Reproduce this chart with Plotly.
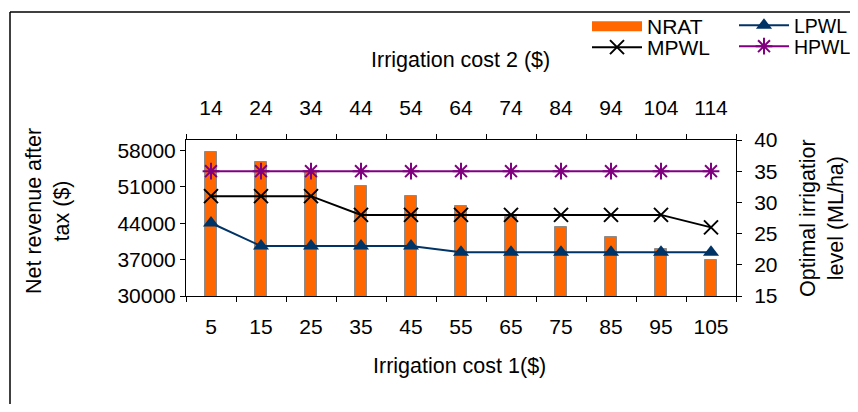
import plotly.graph_objects as go

cost1 = ["5", "15", "25", "35", "45", "55", "65", "75", "85", "95", "105"]
cost2 = ["14", "24", "34", "44", "54", "64", "74", "84", "94", "104", "114"]
nrat = [57700, 55800, 53900, 51200, 49200, 47300, 45200, 43200, 41300, 39000, 37000]
lpwl = [26.7, 23, 23, 23, 23, 22, 22, 22, 22, 22, 22]
mpwl = [31, 31, 31, 28, 28, 28, 28, 28, 28, 28, 26]
hpwl = [35, 35, 35, 35, 35, 35, 35, 35, 35, 35, 35]

FONT = "Liberation Sans, Arial, sans-serif"
FS = 21
FT = 21.5
OFF = 8  # page offset of the figure inside the browser window (body margin)
W, H = 858 - 2 * OFF, 412 - 2 * OFF
# plot area in screen (reference) pixels: x 186..736, y 140..296
PW, PH = 550, 156
L = 186 - OFF
T = 140 - OFF
R = W - L - PW
B = H - T - PH

def px(x):
    return (x - OFF - L) / PW

def py(y):
    return (H - B - (y - OFF)) / PH

fig = go.Figure()
fig.add_trace(go.Bar(x=cost1, y=nrat, name="NRAT", width=0.23,
                     marker=dict(color="#FF6600", line=dict(color="#8C8C8C", width=1)),
                     showlegend=False))
# legend proxy giving NRAT a wide rectangular swatch like the original
fig.add_trace(go.Scatter(x=[None], y=[None], name="NRAT", mode="lines",
                         line=dict(color="#FF6600", width=16), legend="legend",
                         hoverinfo="skip"))
fig.add_trace(go.Scatter(x=cost1, y=lpwl, name="LPWL", yaxis="y2", mode="lines+markers",
                         line=dict(color="#003366", width=2),
                         marker=dict(symbol="triangle-up", size=14, color="#003366"),
                         legend="legend2"))
fig.add_trace(go.Scatter(x=cost1, y=mpwl, name="MPWL", yaxis="y2", mode="lines+markers",
                         line=dict(color="#000000", width=2),
                         marker=dict(symbol="x-thin-open", size=14, color="#000000",
                                     line=dict(width=2, color="#000000")),
                         legend="legend3"))
fig.add_trace(go.Scatter(x=cost1, y=hpwl, name="HPWL", yaxis="y2", mode="lines+markers",
                         line=dict(color="#800080", width=2),
                         marker=dict(symbol="asterisk-open", size=14, color="#800080",
                                     line=dict(width=2, color="#800080")),
                         legend="legend4"))
# invisible trace to carry the top axis categories
fig.add_trace(go.Scatter(x=cost2, y=[None] * len(cost2), xaxis="x2", yaxis="y",
                         showlegend=False, hoverinfo="skip", mode="markers"))

axis_common = dict(showline=True, linecolor="black", linewidth=1, ticks="outside",
                   tickcolor="black", ticklen=5, showgrid=False, zeroline=False,
                   automargin=False,
                   tickfont=dict(family=FONT, size=FS, color="black"))

def leg(x, y, size=FS):
    return dict(x=px(x), y=py(y), xanchor="left", yanchor="top",
                font=dict(family=FONT, size=size), bgcolor="rgba(0,0,0,0)",
                itemwidth=50)

def ann(text, x, y, angle=0):
    return dict(text=text, x=px(x), y=py(y), xref="paper", yref="paper",
                xanchor="center", yanchor="middle", showarrow=False,
                textangle=angle, font=dict(family=FONT, size=FT))

fig.update_layout(
    width=W, height=H,
    margin=dict(l=L, r=R, t=T, b=B, autoexpand=False),
    paper_bgcolor="white", plot_bgcolor="white",
    font=dict(family=FONT, size=FS, color="black"),
    xaxis=dict(type="category", tickson="boundaries", ticklabelstandoff=12,
               range=[-0.5, 10.5], autorange=False, **axis_common),
    xaxis2=dict(type="category", overlaying="x", side="top", tickson="boundaries",
                ticklabelstandoff=16, range=[-0.5, 10.5], autorange=False, **axis_common),
    yaxis=dict(range=[30000, 60000], tickvals=[30000, 37000, 44000, 51000, 58000],
               tickformat="d", ticklabelstandoff=0, **axis_common),
    yaxis2=dict(range=[15, 40], tickvals=[15, 20, 25, 30, 35, 40], overlaying="y",
                side="right", ticklabelstandoff=8, **axis_common),
    bargap=0,
    legend=leg(587, 6),
    legend2=leg(734, 6, 19.5),
    legend3=leg(587, 27),
    legend4=leg(734, 27, 19.5),
    annotations=[
        ann("Irrigation cost 2 ($)", 460, 60),
        ann("Irrigation cost 1($)", 459, 366),
        ann("Net revenue after<br>tax ($)", 48, 211, -90),
        ann("Optimal irrigatior<br>level (ML/ha)", 822, 218, -90),
    ],
    shapes=[
        dict(type="line", xref="paper", yref="paper", x0=px(10), x1=px(900), y0=py(12), y1=py(12),
             line=dict(color="black", width=1.5)),
        dict(type="line", xref="paper", yref="paper", x0=px(10), x1=px(10), y0=py(12), y1=py(430),
             line=dict(color="black", width=1.5)),
    ],
)

fig.write_html("out.html")
